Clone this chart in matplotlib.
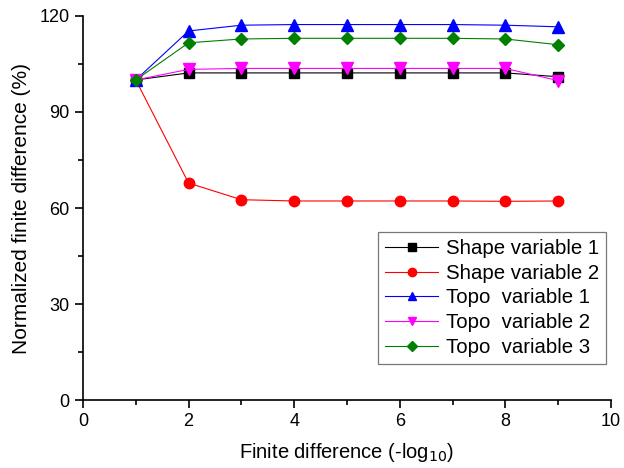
import matplotlib
matplotlib.use("Agg")
import matplotlib.pyplot as plt
from matplotlib.ticker import MultipleLocator

plt.rcParams['font.family'] = ['Liberation Sans', 'DejaVu Sans']

x = [1, 2, 3, 4, 5, 6, 7, 8, 9]
shape1 = [100, 102.2, 102.2, 102.2, 102.2, 102.2, 102.2, 102.2, 101.0]
shape2 = [100, 67.8, 62.6, 62.2, 62.2, 62.2, 62.2, 62.1, 62.2]
topo1 = [100, 115.3, 117.1, 117.3, 117.3, 117.3, 117.3, 117.1, 116.6]
topo2 = [100, 103.3, 103.6, 103.6, 103.6, 103.6, 103.6, 103.6, 99.8]
topo3 = [100, 111.6, 112.8, 113.0, 113.0, 113.0, 113.0, 112.8, 111.0]

labels = ["Shape variable 1", "Shape variable 2", "Topo  variable 1",
          "Topo  variable 2", "Topo  variable 3"]

fig = plt.figure(figsize=(6.24, 4.68), dpi=100)
ax = fig.add_axes([0.133, 0.145, 0.846, 0.821])

lw = 0.8
ax.plot(x, shape1, color='black', marker='s', markersize=7, lw=lw, label=labels[0])
ax.plot(x, shape2, color='red', marker='o', markersize=7.5, lw=lw, label=labels[1])
ax.plot(x, topo1, color='blue', marker='^', markersize=8, lw=lw, label=labels[2])
ax.plot(x, topo2, color='magenta', marker='v', markersize=8, lw=lw, label=labels[3])
ax.plot(x, topo3, color='green', marker='D', markersize=6.5, lw=lw, label=labels[4])

ax.set_xlim(0, 10)
ax.set_ylim(0, 120)
ax.xaxis.set_major_locator(MultipleLocator(2))
ax.xaxis.set_minor_locator(MultipleLocator(1))
ax.yaxis.set_major_locator(MultipleLocator(30))
ax.yaxis.set_minor_locator(MultipleLocator(15))
for s in ['top', 'right']:
    ax.spines[s].set_visible(False)
for s in ['left', 'bottom']:
    ax.spines[s].set_linewidth(1.2)
ax.tick_params(which='major', direction='out', length=6, width=1.2, labelsize=13)
ax.tick_params(which='minor', direction='out', length=3.5, width=1.2)

ax.set_xlabel("Finite difference (-log$_{10}$)", fontsize=14.5, labelpad=8)
ax.set_ylabel("Normalized finite difference (%)", fontsize=15, labelpad=6)

leg = ax.legend(loc='lower right', bbox_to_anchor=(0.9905, 0.094), borderaxespad=0,
                fontsize=14.7, markerscale=0.8,
                frameon=True, fancybox=False, edgecolor='#555555',
                handlelength=2.6, labelspacing=0.28, borderpad=0.35, handletextpad=0.35)
leg.get_frame().set_linewidth(0.9)

fig.savefig("out.png", dpi=100)
